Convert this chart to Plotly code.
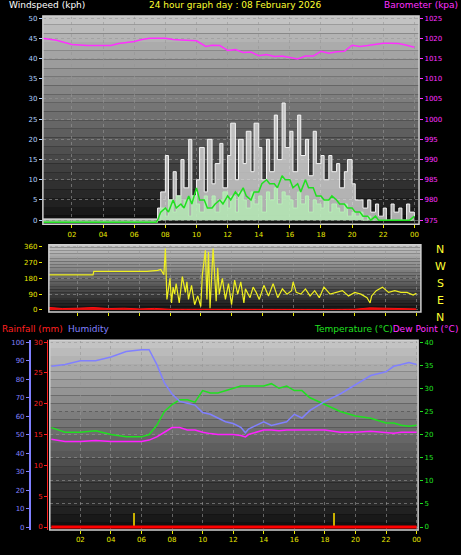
import plotly.graph_objects as go

# ---- wind (kph) ----
wind_t = [0.1, 7.4, 7.5, 7.7, 8.0, 8.2, 8.5, 8.7, 9.0, 9.2, 9.5, 9.7, 10.0, 10.2, 10.5, 10.7, 11.0, 11.2, 11.5,
          11.7, 12.0, 12.2, 12.5, 12.7, 13.0, 13.2, 13.5, 13.7, 14.0, 14.2, 14.5, 14.7, 15.0, 15.2, 15.5, 15.7,
          16.0, 16.2, 16.5, 16.7, 17.0, 17.2, 17.5, 17.7, 18.0, 18.2, 18.5, 18.7, 19.0, 19.2, 19.5, 19.7, 20.0,
          20.2, 20.5, 20.7, 21.0, 21.2, 21.5, 21.7, 22.0, 22.2, 22.5, 22.7, 23.0, 23.2, 23.5, 23.7, 24.0]
wind_gust = [0.3, 0.3, 3, 7, 16, 5, 12, 6, 15, 8, 20, 6, 10, 18, 7, 20, 9, 14, 19,
             8, 16, 24, 10, 20, 14, 22, 12, 24, 18, 10, 20, 12, 26, 15, 29, 18,
             22, 12, 26, 16, 20, 11, 22, 14, 16, 10, 16, 12, 14, 8, 12, 15, 9,
             5, 5, 3, 5, 2, 4, 1, 3, 0, 4, 2, 3, 0, 4, 2, 1]
wind_avg = [-0.5, -0.5, 0, 2, 3, 2, 5, 3, 4, 3, 6, 4, 8, 5, 5, 3, 3, 4, 5,
            4, 6, 5, 7, 6, 8, 6, 5, 7, 7, 9, 10, 9, 9, 8, 11, 10,
            10, 8, 9, 7, 10, 8, 8, 6, 6, 5, 5, 6, 5, 4, 4, 3, 3,
            2, 2, 1, 1, 0, 1, 0, 0, 0, 0, 0, 0, 0, 0, 0, 1]
wind_speed = [-0.5, -0.5, 0, 3, 1, 5, 2, 6, 3, 5, 1, 6, 4, 2, 6, 3, 6, 2, 5,
              7, 3, 6, 2, 7, 5, 3, 7, 4, 6, 2, 7, 5, 8, 4, 7, 6,
              5, 3, 7, 4, 6, 2, 5, 4, 3, 5, 2, 4, 3, 2, 4, 1, 2,
              1, 2, 0, 1, 0, 0, 0, 0, 0, 0, 0, 0, 0, 0, 0, 0]

# ---- barometer (kPa as labelled) ----
baro_t = [0.1, 0.5, 1, 2, 3, 4, 4.5, 5, 6, 6.5, 7, 8, 8.5, 9, 10, 10.6, 11, 11.5, 12, 12.5, 13, 13.5, 14,
          14.5, 15, 15.5, 16, 16.5, 17, 17.5, 18, 18.5, 19, 19.5, 20, 20.5, 21, 22, 22.5, 23, 23.5, 24]
baro = [1020, 1019.7, 1019.5, 1018.5, 1018.2, 1018.2, 1018.2, 1018.7, 1019.2, 1019.7, 1020, 1020, 1019.7,
        1019.6, 1019.4, 1018, 1018.3, 1018.2, 1017, 1017.2, 1016.5, 1016.6, 1015.7, 1016, 1015.5, 1015.6,
        1015.3, 1014.9, 1015.6, 1015.6, 1016.8, 1016.3, 1016.7, 1016.8, 1018.3, 1018, 1018.2, 1018.8,
        1018.8, 1018.7, 1018.3, 1017.8]

# ---- wind direction (deg) ----
dir_t = [0.1, 3.0, 3.05, 6.5, 7.2, 7.4, 7.6, 7.7, 7.8, 8.0, 8.1, 8.2, 8.3, 8.4, 8.6, 8.8, 9.0, 9.1, 9.2, 9.4,
         9.6, 9.8, 10.0, 10.1, 10.3, 10.4, 10.5, 10.6, 10.8, 11.0, 11.1, 11.2, 11.4, 11.6, 11.8, 12.0, 12.2,
         12.4, 12.6, 12.8, 12.9, 13.2, 13.4, 13.6, 13.8, 14.1, 14.4, 14.7, 15.0, 15.3, 15.6, 15.9, 16.0,
         16.2, 16.5, 16.8, 17.1, 17.4, 17.7, 18.0, 18.4, 18.8, 19.2, 19.6, 20.0, 20.4, 20.8, 21.0, 21.1,
         21.4, 21.8, 22.2, 22.6, 23.0, 23.4, 23.8, 24.0]
dir_deg = [200, 200, 220, 220, 225, 230, 200, 350, 60, 180, 40, 130, 90, 150, 40, 190, 100, 160, 60, 140,
           30, 80, 20, 200, 340, 60, 330, 10, 350, 50, 240, 90, 180, 60, 150, 30, 170,
           90, 160, 40, 120, 70, 130, 100, 60, 140, 80, 150, 70, 120, 90, 110, 160,
           100, 90, 120, 80, 110, 70, 130, 90, 100, 110, 80, 100, 90, 70, 40, 80,
           110, 130, 100, 110, 100, 100, 85, 95]
rain_rate_t = [0.1, 1, 2, 3, 4, 5, 6, 7, 8, 10, 12, 14, 16, 18, 20, 21, 22, 23, 24]
rain_rate = [15, 8, 10, 14, 8, 10, 6, 9, 4, 3, 3, 2, 3, 3, 4, 12, 10, 8, 6]

# ---- temperature / humidity / dew point ----
th_t = [0.1, 1, 2, 3, 4, 5, 6, 6.5, 7, 7.5, 8, 8.5, 9, 9.5, 10, 10.5, 11, 11.5, 12, 12.5, 12.8, 13,
        13.5, 14, 14.5, 15, 15.5, 16, 16.5, 17, 18, 19, 20, 21, 22, 22.5, 23, 23.5, 24]
humidity = [87, 88, 90, 90, 92, 95, 96, 96, 88, 78, 72, 68, 67, 66, 62, 61, 59, 57, 56, 54, 51, 53,
            55, 57, 55, 56, 57, 61, 59, 63, 68, 72, 77, 82, 84, 87, 88, 89, 88]
temperature = [21.5, 20.5, 20.5, 20.8, 20, 19.5, 19.5, 20, 22, 25, 26.5, 27.5, 27.5, 27, 29.5, 29, 29,
               29.5, 30, 30.5, 30.5, 30.5, 30.5, 30.5, 31, 30, 30.5, 29.5, 29.5, 28, 26.5, 25, 24, 23.5,
               22.5, 22.5, 22, 21.8, 22]
dewpoint = [19, 18.5, 18.5, 18.7, 18.5, 18.5, 18.5, 18.8, 19.5, 20.5, 21.5, 21.5, 21, 21, 20.5, 20.2, 20,
            20, 20, 19.8, 19.5, 20, 20.5, 21, 21, 20.8, 21, 21, 21, 21, 21, 20.5, 20.5, 20.7, 20.5, 20.3,
            20.5, 20.5, 20.5]
rainfall_t = [0.1, 24]
rainfall = [0, 0]
solar_t = [5.5, 18.6]
solar = [3, 3]

hour_ticks = [2, 4, 6, 8, 10, 12, 14, 16, 18, 20, 22, 24]
hour_labels = ["02", "04", "06", "08", "10", "12", "14", "16", "18", "20", "22", "00"]

FONT = "DejaVu Sans"
fig = go.Figure()

fig.add_trace(go.Scatter(x=wind_t, y=wind_gust, mode="lines", line_shape="hv", fill="tozeroy",
                         line=dict(color="#f4f4f4", width=1), fillcolor="rgba(225,225,225,0.75)", xaxis="x", yaxis="y"))
fig.add_trace(go.Scatter(x=wind_t, y=wind_speed, mode="lines", line_shape="hv", fill="tozeroy",
                         line=dict(color="#b8f0b8", width=1), fillcolor="rgba(180,235,180,0.8)", xaxis="x", yaxis="y"))
fig.add_trace(go.Scatter(x=wind_t, y=wind_avg, mode="lines", line=dict(color="#20e020", width=1.5), xaxis="x", yaxis="y"))
fig.add_trace(go.Scatter(x=baro_t, y=baro, mode="lines", line=dict(color="#ff30ff", width=1.5), xaxis="x", yaxis="y2"))

fig.add_trace(go.Scatter(x=rain_rate_t, y=rain_rate, mode="lines", fill="tozeroy", line=dict(color="#ff1010", width=1),
                         fillcolor="#e01010", xaxis="x2", yaxis="y3"))
fig.add_trace(go.Scatter(x=dir_t, y=dir_deg, mode="lines", line=dict(color="#f0f020", width=1.2), xaxis="x2", yaxis="y3"))

fig.add_trace(go.Scatter(x=th_t, y=humidity, mode="lines", line=dict(color="#8080ff", width=1.5), xaxis="x3", yaxis="y5"))
fig.add_trace(go.Scatter(x=th_t, y=temperature, mode="lines", line=dict(color="#20e020", width=1.5), xaxis="x3", yaxis="y4"))
fig.add_trace(go.Scatter(x=th_t, y=dewpoint, mode="lines", line=dict(color="#ff20ff", width=1.5), xaxis="x3", yaxis="y4"))
fig.add_trace(go.Bar(x=solar_t, y=solar, width=0.06, marker=dict(color="#c8b000", line_width=0), xaxis="x3", yaxis="y4"))
fig.add_trace(go.Scatter(x=rainfall_t, y=rainfall, mode="lines", line=dict(color="#ff0000", width=3), xaxis="x3", yaxis="y6"))

# gradient backgrounds
shapes = []
n = 24
for xr, yr in [("x", "y"), ("x2", "y3"), ("x3", "y4")]:
    for i in range(n):
        f = i / n
        g = int(195 - 185 * f)
        shapes.append(dict(type="rect", xref=xr + " domain", yref=yr + " domain", x0=0, x1=1,
                           y0=1 - (i + 1) / n, y1=1 - i / n, fillcolor=f"rgb({g},{g},{g})",
                           line_width=0, layer="below"))
    shapes.append(dict(type="rect", xref=xr + " domain", yref=yr + " domain", x0=0, x1=1, y0=0, y1=1,
                       line=dict(color="#d0d0d0", width=1.5), layer="above"))

tick = dict(size=7, family=FONT)
grid = dict(showgrid=True, gridcolor="rgba(150,150,150,0.6)", griddash="dot", gridwidth=1, zeroline=False)
xcommon = dict(tickvals=hour_ticks, ticktext=hour_labels, tickfont=dict(color="#e8e800", **tick),
               ticks="outside", ticklen=3, tickcolor="#e8e800", **grid)

fig.update_layout(
    width=461, height=555, margin=dict(l=0, r=0, t=0, b=0, autoexpand=False),
    paper_bgcolor="black", plot_bgcolor="black", showlegend=False, shapes=shapes, bargap=0,
    xaxis=dict(domain=[0.093, 0.909], anchor="y", range=[0.13, 24.3], **xcommon),
    yaxis=dict(domain=[0.596, 0.971], range=[-1, 50.5], tickvals=list(range(0, 51, 5)),
               tickfont=dict(color="#b0d0ff", **tick), ticks="outside", ticklen=3, tickcolor="#b0d0ff", **grid),
    yaxis2=dict(overlaying="y", side="right", anchor="x", range=[974, 1025.5], tickvals=list(range(975, 1026, 5)),
                tickfont=dict(color="#ff30ff", **tick), ticks="outside", ticklen=3, tickcolor="#ff30ff", showgrid=False, zeroline=False),
    xaxis2=dict(domain=[0.106, 0.913], anchor="y3", range=[0.13, 24.3], showticklabels=False,
                **{k: v for k, v in xcommon.items() if k != "tickfont"}),
    yaxis3=dict(domain=[0.438, 0.559], range=[-11, 371], tickvals=[0, 90, 180, 270, 360],
                tickfont=dict(color="#e8e800", **tick), ticks="outside", ticklen=3, tickcolor="#e8e800", **grid),
    xaxis3=dict(domain=[0.108, 0.907], anchor="y4", range=[0, 24.1], **xcommon),
    yaxis4=dict(domain=[0.045, 0.387], side="right", range=[-0.65, 40.4], tickvals=list(range(0, 41, 5)),
                tickfont=dict(color="#20e020", **tick), ticks="outside", ticklen=3, tickcolor="#20e020", **grid),
    yaxis5=dict(overlaying="y4", side="left", anchor="free", position=0.065, range=[-1.6, 101.1],
                tickvals=list(range(0, 101, 10)), tickfont=dict(color="#8080ff", **tick), ticks="outside",
                ticklen=3, tickcolor="#8080ff", showline=True, linecolor="#8080ff", linewidth=2,
                showgrid=False, zeroline=False),
    yaxis6=dict(overlaying="y4", side="left", anchor="free", position=0.102, range=[-0.49, 30.3],
                tickvals=[0, 5, 10, 15, 20, 25, 30], tickfont=dict(color="#ff2020", **tick), ticks="outside",
                ticklen=3, tickcolor="#ff2020", showline=True, linecolor="#ff2020", linewidth=1,
                showgrid=False, zeroline=False),
)

ann = [
    (0.015, 1.003, "left", "Windspeed (kph)", "white"),
    (0.51, 1.003, "center", "24 hour graph day : 08 February 2026", "#ffff30"),
    (0.998, 1.003, "right", "Barometer (kpa)", "#ff30ff"),
    (0.0, 0.42, "left", "Rainfall (mm)", "#ff2020"),
    (0.143, 0.42, "left", "Humidity", "#8080ff"),
    (0.998, 0.42, "right", "Temperature (°C)<span style='color:#ff30ff'>Dew Point (°C)</span>", "#20e020"),
]
for x, y, xa, t, c in ann:
    fig.add_annotation(x=x, y=y, xref="paper", yref="paper", xanchor=xa, yanchor="top", text=t,
                       showarrow=False, font=dict(family=FONT, size=9, color=c))
for i, d in enumerate(["N", "W", "S", "E", "N"]):
    fig.add_annotation(x=0.955, y=0.565 - i * 0.0305, xref="paper", yref="paper", xanchor="center", yanchor="top",
                       text=d, showarrow=False, font=dict(family=FONT, size=11, color="#ffff30"))

fig.write_html("out.html", config={"displayModeBar": False},
               post_script="document.body.style.margin='0';document.body.style.background='black';")
